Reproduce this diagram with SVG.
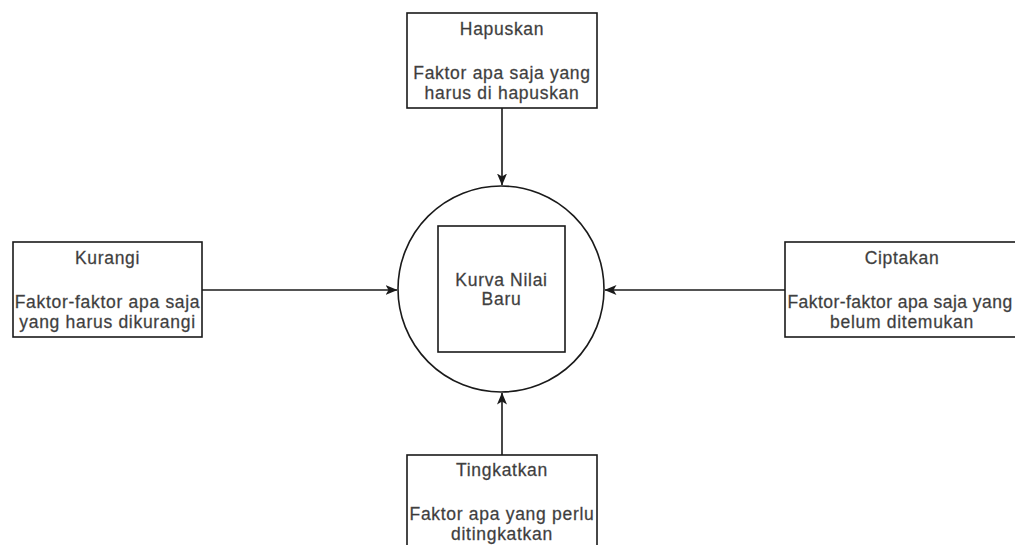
<svg xmlns="http://www.w3.org/2000/svg" width="1015" height="545" viewBox="0 0 1015 545">
  <style>
    .box { fill: #ffffff; stroke: #1a1a1a; stroke-width: 1.6; }
    .edge { fill: none; stroke: #1a1a1a; stroke-width: 1.6; }
    .lbl { font-family: "Liberation Sans", Arial, sans-serif; font-size: 17.5px; fill: #3a3a3a; stroke: #555555; stroke-width: 0.3px; text-anchor: middle; letter-spacing: 0.7px; }
    .tight { letter-spacing: 0.45px; }
  </style>
  <defs>
    <marker id="arrow" viewBox="0 0 12 10" refX="11.5" refY="5" markerWidth="12" markerHeight="10" markerUnits="userSpaceOnUse" orient="auto">
      <path d="M0,0 L12,5 L0,10 L3,5 Z" fill="#1a1a1a"/>
    </marker>
  </defs>
  <rect width="1015" height="545" fill="#ffffff"/>

  <g id="connectors">
    <line class="edge" x1="502" y1="108" x2="502" y2="185" marker-end="url(#arrow)"/>
    <line class="edge" x1="202" y1="290" x2="397" y2="290" marker-end="url(#arrow)"/>
    <line class="edge" x1="785" y1="290" x2="605" y2="290" marker-end="url(#arrow)"/>
    <line class="edge" x1="502" y1="455" x2="502" y2="393" marker-end="url(#arrow)"/>
  </g>

  <g id="center">
    <circle cx="501" cy="289" r="103" fill="#ffffff" stroke="#1a1a1a" stroke-width="1.6"/>
    <rect class="box" x="438" y="226" width="127" height="126"/>
    <text class="lbl" x="501.5" y="286">Kurva Nilai</text>
    <text class="lbl" x="501.5" y="305">Baru</text>
  </g>

  <g id="hapuskan">
    <rect class="box" x="407" y="13" width="190" height="95"/>
    <text class="lbl" x="502" y="35">Hapuskan</text>
    <text class="lbl" x="502" y="79">Faktor apa saja yang</text>
    <text class="lbl" x="502" y="99">harus di hapuskan</text>
  </g>

  <g id="kurangi">
    <rect class="box" x="13" y="242" width="189" height="95"/>
    <text class="lbl" x="107.5" y="264">Kurangi</text>
    <text class="lbl" x="107.5" y="308">Faktor-faktor apa saja</text>
    <text class="lbl" x="107.5" y="328">yang harus dikurangi</text>
  </g>

  <g id="ciptakan">
    <rect class="box" x="785" y="242" width="234" height="95"/>
    <text class="lbl" x="902" y="264">Ciptakan</text>
    <text class="lbl tight" x="900" y="308">Faktor-faktor apa saja yang</text>
    <text class="lbl" x="902" y="328">belum ditemukan</text>
  </g>

  <g id="tingkatkan">
    <rect class="box" x="407" y="455" width="190" height="95"/>
    <text class="lbl" x="502" y="476">Tingkatkan</text>
    <text class="lbl" x="502" y="520">Faktor apa yang perlu</text>
    <text class="lbl" x="502" y="540">ditingkatkan</text>
  </g>
</svg>
